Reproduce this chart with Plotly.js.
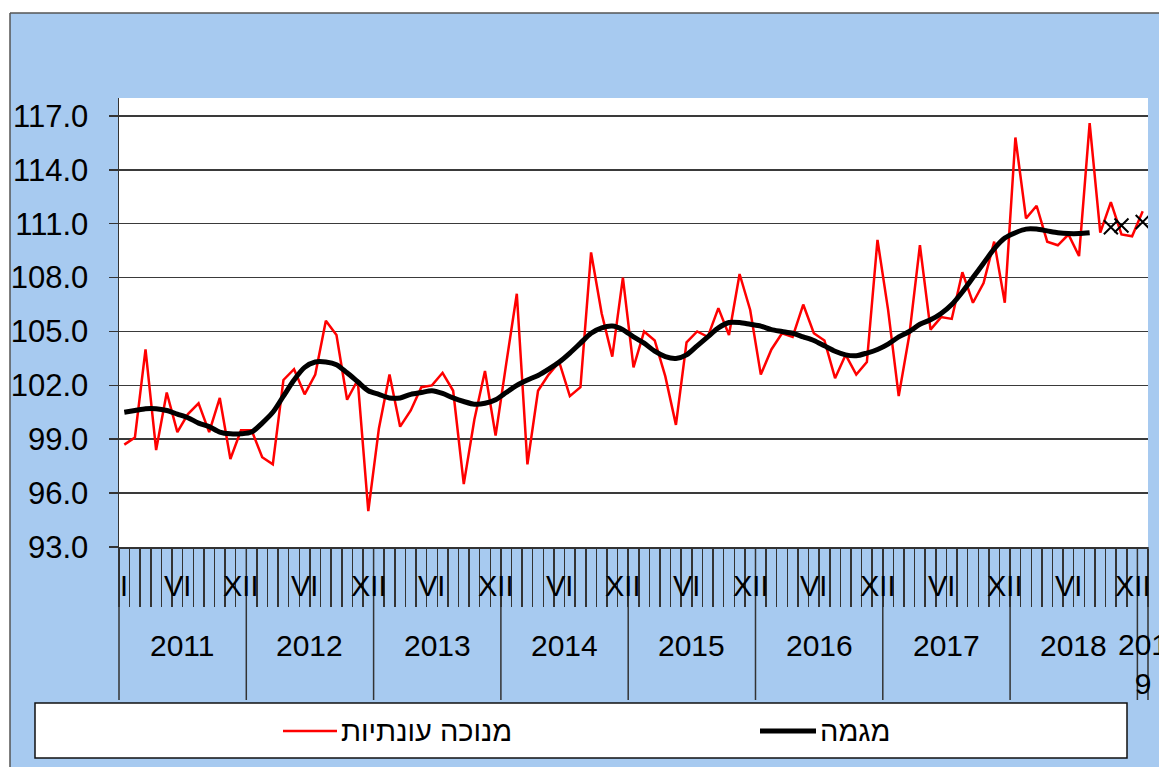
<!DOCTYPE html>
<html>
<head>
<meta charset="utf-8">
<script src="https://cdn.plot.ly/plotly-3.0.1.min.js"></script>
<style>
html,body{margin:0;padding:0;background:#fff;}
#chart{width:1159px;height:767px;}
</style>
</head>
<body>
<div id="chart"></div>
<script>
// ---- data ----
var years = [2011, 2012, 2013, 2014, 2015, 2016, 2017, 2018, 2019];
var monthLabels = ["I", "VI", "XII"];
var seriesNames = ["מנוכה עונתיות", "מגמה"];

// seasonally adjusted, monthly Jan 2011 .. Jan 2019
var seasAdj = [
  98.7, 99.1, 104.0, 98.4, 101.6, 99.4, 100.4, 101.0, 99.4, 101.3, 97.9, 99.5,
  99.5, 98.0, 97.6, 102.3, 102.9, 101.5, 102.6, 105.6, 104.8, 101.2, 102.3, 95.0,
  99.6, 102.6, 99.7, 100.6, 101.9, 102.0, 102.7, 101.7, 96.5, 100.1, 102.8, 99.2,
  103.2, 107.1, 97.6, 101.7, 102.6, 103.3, 101.4, 101.9, 109.4, 106.0, 103.6, 108.0,
  103.0, 105.0, 104.5, 102.5, 99.8, 104.4, 105.0, 104.7, 106.3, 104.8, 108.2, 106.2,
  102.6, 104.0, 104.9, 104.7, 106.5, 104.9, 104.5, 102.4, 103.7, 102.6, 103.3, 110.1,
  106.2, 101.4, 104.8, 109.8, 105.1, 105.8, 105.7, 108.3, 106.6, 107.7, 110.0, 106.6,
  115.8, 111.3, 112.0, 110.0, 109.8, 110.4, 109.2, 116.6, 110.5, 112.2, 110.4, 110.3,
  111.7
];

// trend, monthly Jan 2011 .. Aug 2018
var trend = [
  100.5, 100.6, 100.7, 100.7, 100.6, 100.4, 100.2, 99.9, 99.7, 99.4, 99.3, 99.3,
  99.4, 99.9, 100.5, 101.4, 102.3, 103.0, 103.3, 103.3, 103.15, 102.7, 102.2, 101.7,
  101.5, 101.3, 101.3, 101.5, 101.6, 101.7, 101.55, 101.3, 101.1, 100.95, 101.0, 101.2,
  101.6, 102.0, 102.3, 102.55, 102.9, 103.3, 103.8, 104.35, 104.9, 105.2, 105.3, 105.1,
  104.7, 104.35, 103.9, 103.6, 103.5, 103.7, 104.2, 104.7, 105.2, 105.5, 105.5, 105.4,
  105.3, 105.1, 105.0, 104.9, 104.7, 104.5, 104.2, 103.9, 103.7, 103.65, 103.8, 104.0,
  104.3, 104.7, 105.0, 105.4, 105.65, 106.0, 106.5, 107.2, 108.0, 108.8, 109.6, 110.2,
  110.5, 110.7, 110.7, 110.6, 110.5, 110.45, 110.45, 110.5
];

// extra points (x markers), Oct 2018 .. Jan 2019
var extraIdx = [93, 94, 95, 96];
var extraVal = [110.8, 110.9, null, 111.1];

var yTicks = [93, 96, 99, 102, 105, 108, 111, 114, 117];

// ---- geometry helpers (pixel -> paper) ----
var W = 1159, H = 767;
var L = 119, R = 11, T = 98, B = 220;
var PW = W - L - R, PH = H - T - B;
function px(x) { return (x - L) / PW; }
function py(y) { return (H - B - y) / PH; }

var nMonths = seasAdj.length;
var xRange = [-0.5, nMonths - 0.5];
function xp(v) { return (v - xRange[0]) / (xRange[1] - xRange[0]); }

var idxAll = seasAdj.map(function (_, i) { return i; });
var idxTrend = trend.map(function (_, i) { return i; });

var FONT = "Liberation Sans, Arial, sans-serif";

var traces = [
  {
    x: idxAll, y: seasAdj, type: "scatter", mode: "lines", name: seriesNames[0],
    line: { color: "#ff0000", width: 2.5 }, showlegend: false, hoverinfo: "skip"
  },
  {
    x: idxTrend, y: trend, type: "scatter", mode: "lines", name: seriesNames[1],
    line: { color: "#000000", width: 5, shape: "spline", smoothing: 0.8 }, showlegend: false, hoverinfo: "skip"
  },
  {
    x: extraIdx, y: extraVal, type: "scatter", mode: "markers", name: "x",
    marker: { symbol: "x-thin", size: 14, color: "#000", line: { color: "#000", width: 2 } },
    showlegend: false, hoverinfo: "skip"
  }
];

// month boundary ticks
var boundaries = [];
for (var b = 0; b <= nMonths; b++) boundaries.push(b - 0.5);

var shapes = [];
// white margins outside the chart frame
shapes.push({ type: "rect", xref: "paper", yref: "paper", x0: px(0), x1: px(W + 5), y0: py(-5), y1: py(13), fillcolor: "#fff", line: { width: 0 }, layer: "below" });
shapes.push({ type: "rect", xref: "paper", yref: "paper", x0: px(-5), x1: px(10), y0: py(-5), y1: py(H + 5), fillcolor: "#fff", line: { width: 0 }, layer: "below" });
// chart frame
shapes.push({ type: "line", xref: "paper", yref: "paper", x0: px(10), x1: px(W + 5), y0: py(13), y1: py(13), line: { color: "#555", width: 1.5 }, layer: "below" });
shapes.push({ type: "line", xref: "paper", yref: "paper", x0: px(10), x1: px(10), y0: py(13), y1: py(H + 5), line: { color: "#555", width: 1.5 }, layer: "below" });

// year dividers
for (var yi = 0; yi < years.length; yi++) {
  var bx = Math.min(yi * 12, nMonths) - 0.5;
  shapes.push({ type: "line", xref: "paper", yref: "paper", x0: xp(bx), x1: xp(bx), y0: 0, y1: py(700), line: { color: "#333", width: 1.5 } });
}
shapes.push({ type: "line", xref: "paper", yref: "paper", x0: xp(nMonths - 0.5), x1: xp(nMonths - 0.5), y0: 0, y1: py(700), line: { color: "#333", width: 1.5 } });

// legend box and keys
shapes.push({ type: "rect", xref: "paper", yref: "paper", x0: px(35), x1: px(1127), y0: py(758), y1: py(703), fillcolor: "#fff", line: { color: "#111", width: 1.5 } });
shapes.push({ type: "line", xref: "paper", yref: "paper", x0: px(283), x1: px(337), y0: py(731), y1: py(731), line: { color: "#ff0000", width: 2.5 } });
shapes.push({ type: "line", xref: "paper", yref: "paper", x0: px(760), x1: px(816), y0: py(731), y1: py(731), line: { color: "#000", width: 5 } });

var annotations = [];
// month labels
for (var y = 0; y < years.length - 1; y++) {
  var items = [];
  if (y === 0) items.push([0, monthLabels[0]]);
  items.push([y * 12 + 5, monthLabels[1]]);
  items.push([y * 12 + 11, monthLabels[2]]);
  items.forEach(function (it) {
    annotations.push({ xref: "x", yref: "paper", x: it[0], y: py(586), text: it[1], showarrow: false,
      xanchor: "center", yanchor: "middle", font: { family: FONT, size: 29, color: "#000" } });
  });
}
// year labels
for (var y2 = 0; y2 < years.length; y2++) {
  var last = (y2 === years.length - 1);
  if (!last) {
    annotations.push({ xref: "x", yref: "paper", x: y2 * 12 + 5.5, y: py(645), text: String(years[y2]), showarrow: false,
      xanchor: "center", yanchor: "middle", font: { family: FONT, size: 30, color: "#000" } });
  } else {
    var s = String(years[y2]);
    annotations.push({ xref: "x", yref: "paper", x: y2 * 12, y: py(626), text: s.slice(0, 3) + "<br>" + s.slice(3), showarrow: false,
      xanchor: "center", yanchor: "top", font: { family: FONT, size: 30, color: "#000" } });
  }
}
// legend texts
annotations.push({ xref: "paper", yref: "paper", x: px(339), y: py(731), text: seriesNames[0], showarrow: false,
  xanchor: "left", yanchor: "middle", font: { family: FONT, size: 29, color: "#000" } });
annotations.push({ xref: "paper", yref: "paper", x: px(818), y: py(731), text: seriesNames[1], showarrow: false,
  xanchor: "left", yanchor: "middle", font: { family: FONT, size: 29, color: "#000" } });

var layout = {
  width: W, height: H,
  margin: { l: L, r: R, t: T, b: B, pad: 0 },
  paper_bgcolor: "#a7caf0",
  plot_bgcolor: "#ffffff",
  showlegend: false,
  font: { family: FONT, color: "#000" },
  xaxis: {
    type: "linear", range: xRange, showgrid: false, zeroline: false,
    showline: true, linecolor: "#333", linewidth: 1.5,
    tickmode: "array", tickvals: boundaries, ticktext: boundaries.map(function () { return ""; }),
    ticks: "outside", ticklen: 58, tickwidth: 1.5, tickcolor: "#333", showticklabels: false
  },
  yaxis: {
    range: [93, 118], tickmode: "array", tickvals: yTicks, tickformat: ".1f",
    showgrid: true, gridcolor: "#3a3a3a", gridwidth: 1.5, zeroline: false,
    showline: true, linecolor: "#333", linewidth: 1.5,
    ticks: "outside", ticklen: 9, tickwidth: 1.5, tickcolor: "#333",
    ticklabelstandoff: 14,
    tickfont: { family: FONT, size: 31, color: "#000" }
  },
  shapes: shapes,
  annotations: annotations
};

Plotly.newPlot("chart", traces, layout, { staticPlot: true, displayModeBar: false });
</script>
</body>
</html>
